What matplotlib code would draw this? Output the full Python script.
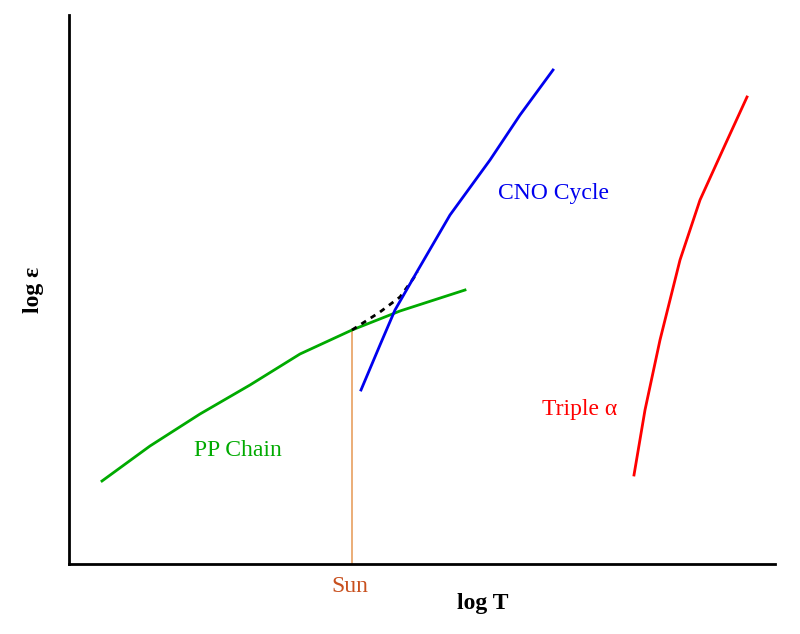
import matplotlib
matplotlib.use("Agg")
import matplotlib.pyplot as plt

# Schematic coordinates: x = pixels from left spine, y = pixels above bottom spine
pp_x = [33, 81, 131, 181, 231, 283, 331, 396]
pp_y = [83, 118, 150, 179, 210, 234, 253, 274]
dot_x = [283, 311, 331, 349]
dot_y = [234, 252, 267, 292]
cno_x = [292, 311, 326, 349, 381, 421, 451, 484]
cno_y = [174, 219, 254, 294, 349, 404, 449, 494]
tri_x = [565, 576, 591, 611, 631, 656, 678]
tri_y = [89, 154, 224, 304, 364, 419, 467]
sun_x = 283
sun_top = 234

fig = plt.figure(figsize=(8, 6.34), dpi=100)
ax = fig.add_axes([69/800, (634-564)/634, 706/800, 549/634])
ax.set_xlim(0, 706)
ax.set_ylim(0, 549)
for s in ["top", "right"]:
    ax.spines[s].set_visible(False)
ax.spines["left"].set_linewidth(2)
ax.spines["bottom"].set_linewidth(2)
ax.set_xticks([])
ax.set_yticks([])

ax.plot([sun_x, sun_x], [0, sun_top], color="#e8a060", lw=1.2)
ax.plot(pp_x, pp_y, color="#00aa00", lw=2)
ax.plot(dot_x, dot_y, color="black", lw=2, linestyle=(0, (2, 2)))
ax.plot(cno_x, cno_y, color="#0000ee", lw=2)
ax.plot(tri_x, tri_y, color="#ff0000", lw=2)

font = "Liberation Serif"
fs = 17
ax.text(484, 370, "CNO Cycle", color="#0000ee", fontsize=fs, family=font, ha="center", va="center")
ax.text(169, 113, "PP Chain", color="#00aa00", fontsize=fs, family=font, ha="center", va="center")
ax.text(511, 155, "Triple α", color="#ff0000", fontsize=fs, family=font, ha="center", va="center")
fig.text(350/800, 1-587/634, "Sun", color="#c8501e", fontsize=fs, family=font, ha="center", va="center")
fig.text(483/800, 1-604/634, "log T", color="black", fontsize=fs, family=font, weight="bold", ha="center", va="center")
fig.text(33/800, 1-290/634, "log ε", color="black", fontsize=fs, family=font, weight="bold", rotation=90, ha="center", va="center")

fig.savefig("out.png", dpi=100)
